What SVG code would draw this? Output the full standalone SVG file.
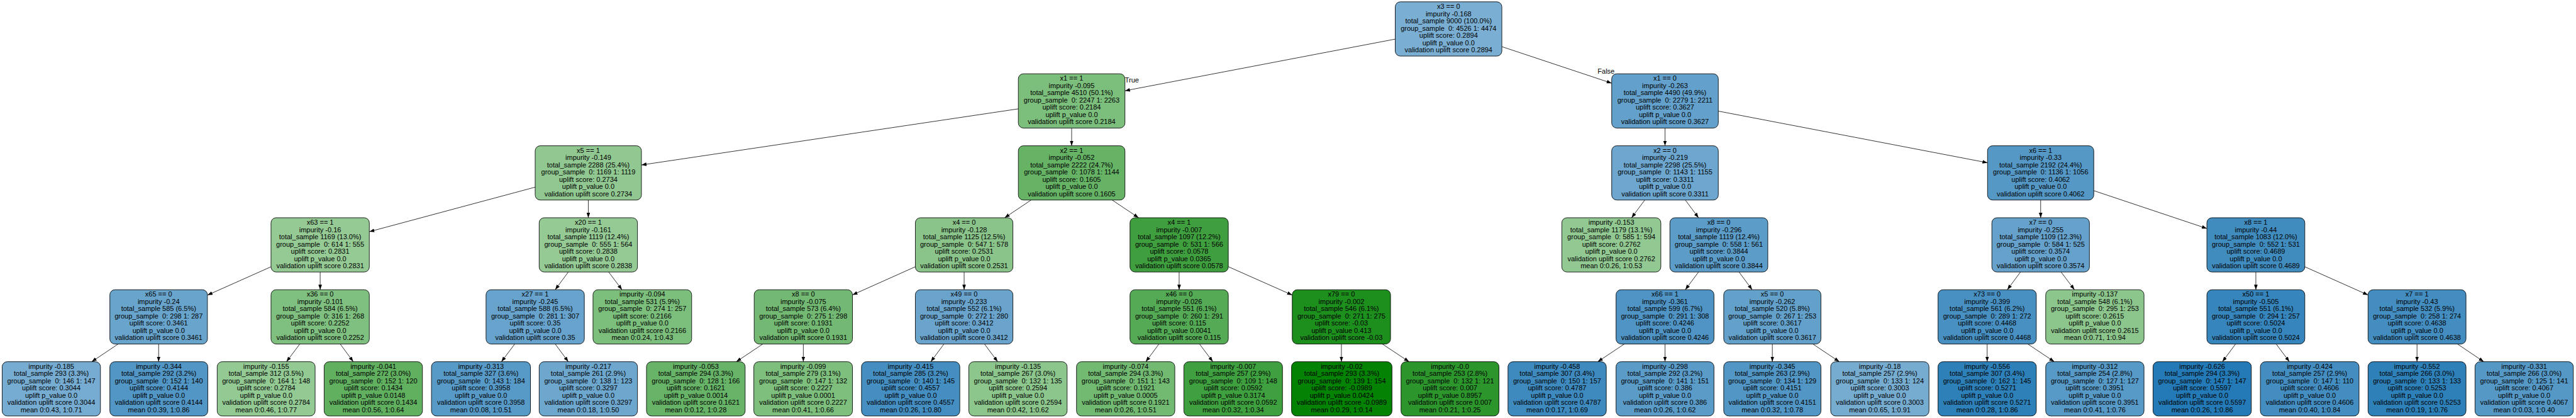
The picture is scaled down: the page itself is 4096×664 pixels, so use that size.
<svg xmlns="http://www.w3.org/2000/svg" width="4096" height="664" viewBox="0 0 4096 664">
<style>
.n rect{stroke:#000;stroke-width:1.5}
text{font-family:"Liberation Sans",Arial,sans-serif;font-size:19.15px;fill:#000;white-space:pre}
.n text{text-anchor:middle}
.e line{stroke:#000;stroke-width:1.4;marker-end:url(#ah)}
</style>
<defs>
<marker id="ah" markerUnits="userSpaceOnUse" markerWidth="14" markerHeight="10" refX="14" refY="5" orient="auto"><path d="M0,0 L14,5 L0,10 z" fill="#000"/></marker>
</defs>
<rect width="4096" height="664" fill="#fff"/>
<g transform="scale(0.5746)">
<g class="e" id="edges">
<line x1="3861" y1="108.1" x2="3113" y2="250.9"/>
<line x1="4156" y1="129" x2="4460" y2="230"/>
<line x1="2818" y1="300.9" x2="1775" y2="456.1"/>
<line x1="2965.5" y1="354" x2="2965.5" y2="403"/>
<line x1="4607.5" y1="354" x2="4607.5" y2="403"/>
<line x1="4755" y1="307.2" x2="5500" y2="449.9"/>
<line x1="1481" y1="517.4" x2="1022" y2="640.5"/>
<line x1="1628" y1="553" x2="1628" y2="602"/>
<line x1="2853.4" y1="553" x2="2780.1" y2="602"/>
<line x1="3077.6" y1="553" x2="3150.9" y2="602"/>
<line x1="4551.5" y1="553" x2="4515" y2="602"/>
<line x1="4663.7" y1="553" x2="4700.3" y2="602"/>
<line x1="5647" y1="553" x2="5647" y2="602"/>
<line x1="5794" y1="527.1" x2="6107" y2="631.7"/>
<line x1="750" y1="737.5" x2="574" y2="815.9"/>
<line x1="886" y1="752" x2="886" y2="801"/>
<line x1="1572.6" y1="752" x2="1536.4" y2="801"/>
<line x1="1684.3" y1="752" x2="1721.2" y2="801"/>
<line x1="2533" y1="737.4" x2="2359" y2="815.2"/>
<line x1="2668" y1="752" x2="2668" y2="801"/>
<line x1="3263" y1="752" x2="3263" y2="801"/>
<line x1="3399" y1="737.3" x2="3576" y2="815.7"/>
<line x1="4700.3" y1="752" x2="4663.7" y2="801"/>
<line x1="4812.3" y1="752" x2="4848.7" y2="801"/>
<line x1="5591.2" y1="752" x2="5554.8" y2="801"/>
<line x1="5703.5" y1="752" x2="5740.5" y2="801"/>
<line x1="6242.5" y1="752" x2="6242.5" y2="801"/>
<line x1="6378" y1="737.5" x2="6553" y2="815.5"/>
<line x1="327.1" y1="951" x2="253.9" y2="1000"/>
<line x1="439" y1="951" x2="439" y2="1000"/>
<line x1="829.7" y1="951" x2="792.8" y2="1000"/>
<line x1="941.4" y1="951" x2="977.6" y2="1000"/>
<line x1="1424.5" y1="951" x2="1387.5" y2="1000"/>
<line x1="1536.4" y1="951" x2="1572.6" y2="1000"/>
<line x1="2110.9" y1="951" x2="2037.6" y2="1000"/>
<line x1="2223" y1="951" x2="2223" y2="1000"/>
<line x1="2612.2" y1="951" x2="2575.8" y2="1000"/>
<line x1="2724.2" y1="951" x2="2760.8" y2="1000"/>
<line x1="3207.2" y1="951" x2="3170.8" y2="1000"/>
<line x1="3319.3" y1="951" x2="3356.2" y2="1000"/>
<line x1="3712" y1="951" x2="3712" y2="1000"/>
<line x1="3825.3" y1="951" x2="3899.2" y2="1000"/>
<line x1="4495" y1="951" x2="4421.5" y2="1000"/>
<line x1="4607.5" y1="951" x2="4607.5" y2="1000"/>
<line x1="4904.5" y1="951" x2="4904.5" y2="1000"/>
<line x1="5016.6" y1="951" x2="5089.9" y2="1000"/>
<line x1="5499" y1="951" x2="5499" y2="1000"/>
<line x1="5611.3" y1="951" x2="5684.7" y2="1000"/>
<line x1="6186.5" y1="951" x2="6150" y2="1000"/>
<line x1="6298.7" y1="951" x2="6335.3" y2="1000"/>
<line x1="6688.5" y1="951" x2="6688.5" y2="1000"/>
<line x1="6800.3" y1="951" x2="6873.2" y2="1000"/>
<text x="3113" y="228">True</text>
<text x="4421" y="204">False</text>
</g>
<g class="n" id="n0"><rect x="3861" y="5" width="295" height="150" rx="14" fill="#7aafd3"/><text x="4008.5" y="24.5"><tspan x="4008.5">x3 == 0</tspan><tspan x="4008.5" dy="20">impurity -0.168</tspan><tspan x="4008.5" dy="20">total_sample 9000 (100.0%)</tspan><tspan x="4008.5" dy="20">group_sample  0: 4526 1: 4474</tspan><tspan x="4008.5" dy="20">uplift score: 0.2894</tspan><tspan x="4008.5" dy="20">uplift p_value 0.0</tspan><tspan x="4008.5" dy="20">validation uplift score 0.2894</tspan></text></g>
<g class="n" id="n1"><rect x="2818" y="204" width="295" height="150" rx="14" fill="#7cbe7c"/><text x="2965.5" y="223.5"><tspan x="2965.5">x1 == 1</tspan><tspan x="2965.5" dy="20">impurity -0.095</tspan><tspan x="2965.5" dy="20">total_sample 4510 (50.1%)</tspan><tspan x="2965.5" dy="20">group_sample  0: 2247 1: 2263</tspan><tspan x="2965.5" dy="20">uplift score: 0.2184</tspan><tspan x="2965.5" dy="20">uplift p_value 0.0</tspan><tspan x="2965.5" dy="20">validation uplift score 0.2184</tspan></text></g>
<g class="n" id="n2"><rect x="4460" y="204" width="295" height="150" rx="14" fill="#63a0cb"/><text x="4607.5" y="223.5"><tspan x="4607.5">x1 == 0</tspan><tspan x="4607.5" dy="20">impurity -0.263</tspan><tspan x="4607.5" dy="20">total_sample 4490 (49.9%)</tspan><tspan x="4607.5" dy="20">group_sample  0: 2279 1: 2211</tspan><tspan x="4607.5" dy="20">uplift score: 0.3627</tspan><tspan x="4607.5" dy="20">uplift p_value 0.0</tspan><tspan x="4607.5" dy="20">validation uplift score 0.3627</tspan></text></g>
<g class="n" id="n3"><rect x="1481" y="403" width="294" height="150" rx="14" fill="#91c891"/><text x="1628" y="422.5"><tspan x="1628">x5 == 1</tspan><tspan x="1628" dy="20">impurity -0.149</tspan><tspan x="1628" dy="20">total_sample 2288 (25.4%)</tspan><tspan x="1628" dy="20">group_sample  0: 1169 1: 1119</tspan><tspan x="1628" dy="20">uplift score: 0.2734</tspan><tspan x="1628" dy="20">uplift p_value 0.0</tspan><tspan x="1628" dy="20">validation uplift score 0.2734</tspan></text></g>
<g class="n" id="n4"><rect x="2818" y="403" width="295" height="150" rx="14" fill="#66b366"/><text x="2965.5" y="422.5"><tspan x="2965.5">x2 == 1</tspan><tspan x="2965.5" dy="20">impurity -0.052</tspan><tspan x="2965.5" dy="20">total_sample 2222 (24.7%)</tspan><tspan x="2965.5" dy="20">group_sample  0: 1078 1: 1144</tspan><tspan x="2965.5" dy="20">uplift score: 0.1605</tspan><tspan x="2965.5" dy="20">uplift p_value 0.0</tspan><tspan x="2965.5" dy="20">validation uplift score 0.1605</tspan></text></g>
<g class="n" id="n5"><rect x="4460" y="403" width="295" height="150" rx="14" fill="#6da6ce"/><text x="4607.5" y="422.5"><tspan x="4607.5">x2 == 0</tspan><tspan x="4607.5" dy="20">impurity -0.219</tspan><tspan x="4607.5" dy="20">total_sample 2298 (25.5%)</tspan><tspan x="4607.5" dy="20">group_sample  0: 1143 1: 1155</tspan><tspan x="4607.5" dy="20">uplift score: 0.3311</tspan><tspan x="4607.5" dy="20">uplift p_value 0.0</tspan><tspan x="4607.5" dy="20">validation uplift score 0.3311</tspan></text></g>
<g class="n" id="n6"><rect x="5500" y="403" width="294" height="150" rx="14" fill="#5598c6"/><text x="5647" y="422.5"><tspan x="5647">x6 == 1</tspan><tspan x="5647" dy="20">impurity -0.33</tspan><tspan x="5647" dy="20">total_sample 2192 (24.4%)</tspan><tspan x="5647" dy="20">group_sample  0: 1136 1: 1056</tspan><tspan x="5647" dy="20">uplift score: 0.4062</tspan><tspan x="5647" dy="20">uplift p_value 0.0</tspan><tspan x="5647" dy="20">validation uplift score 0.4062</tspan></text></g>
<g class="n" id="n7"><rect x="750" y="602" width="272" height="150" rx="14" fill="#95ca95"/><text x="886" y="621.5"><tspan x="886">x63 == 1</tspan><tspan x="886" dy="20">impurity -0.16</tspan><tspan x="886" dy="20">total_sample 1169 (13.0%)</tspan><tspan x="886" dy="20">group_sample  0: 614 1: 555</tspan><tspan x="886" dy="20">uplift score: 0.2831</tspan><tspan x="886" dy="20">uplift p_value 0.0</tspan><tspan x="886" dy="20">validation uplift score 0.2831</tspan></text></g>
<g class="n" id="n8"><rect x="1492" y="602" width="272" height="150" rx="14" fill="#95ca95"/><text x="1628" y="621.5"><tspan x="1628">x20 == 1</tspan><tspan x="1628" dy="20">impurity -0.161</tspan><tspan x="1628" dy="20">total_sample 1119 (12.4%)</tspan><tspan x="1628" dy="20">group_sample  0: 555 1: 564</tspan><tspan x="1628" dy="20">uplift score: 0.2838</tspan><tspan x="1628" dy="20">uplift p_value 0.0</tspan><tspan x="1628" dy="20">validation uplift score 0.2838</tspan></text></g>
<g class="n" id="n9"><rect x="2533" y="602" width="270" height="150" rx="14" fill="#8ac48a"/><text x="2668" y="621.5"><tspan x="2668">x4 == 0</tspan><tspan x="2668" dy="20">impurity -0.128</tspan><tspan x="2668" dy="20">total_sample 1125 (12.5%)</tspan><tspan x="2668" dy="20">group_sample  0: 547 1: 578</tspan><tspan x="2668" dy="20">uplift score: 0.2531</tspan><tspan x="2668" dy="20">uplift p_value 0.0</tspan><tspan x="2668" dy="20">validation uplift score 0.2531</tspan></text></g>
<g class="n" id="n10"><rect x="3127" y="602" width="272" height="150" rx="14" fill="#3f9f3f"/><text x="3263" y="621.5"><tspan x="3263">x4 == 1</tspan><tspan x="3263" dy="20">impurity -0.007</tspan><tspan x="3263" dy="20">total_sample 1097 (12.2%)</tspan><tspan x="3263" dy="20">group_sample  0: 531 1: 566</tspan><tspan x="3263" dy="20">uplift score: 0.0578</tspan><tspan x="3263" dy="20">uplift p_value 0.0365</tspan><tspan x="3263" dy="20">validation uplift score 0.0578</tspan></text></g>
<g class="n" id="n11"><rect x="4322" y="602" width="274" height="150" rx="14" fill="#92c992"/><text x="4459" y="621.5"><tspan x="4459">impurity -0.153</tspan><tspan x="4459" dy="20">total_sample 1179 (13.1%)</tspan><tspan x="4459" dy="20">group_sample  0: 585 1: 594</tspan><tspan x="4459" dy="20">uplift score: 0.2762</tspan><tspan x="4459" dy="20">uplift p_value 0.0</tspan><tspan x="4459" dy="20">validation uplift score 0.2762</tspan><tspan x="4459" dy="20">mean 0:0.26, 1:0.53</tspan></text></g>
<g class="n" id="n12"><rect x="4621" y="602" width="271" height="150" rx="14" fill="#5c9cc8"/><text x="4756.5" y="621.5"><tspan x="4756.5">x8 == 0</tspan><tspan x="4756.5" dy="20">impurity -0.296</tspan><tspan x="4756.5" dy="20">total_sample 1119 (12.4%)</tspan><tspan x="4756.5" dy="20">group_sample  0: 558 1: 561</tspan><tspan x="4756.5" dy="20">uplift score: 0.3844</tspan><tspan x="4756.5" dy="20">uplift p_value 0.0</tspan><tspan x="4756.5" dy="20">validation uplift score 0.3844</tspan></text></g>
<g class="n" id="n13"><rect x="5512" y="602" width="270" height="150" rx="14" fill="#65a1cb"/><text x="5647" y="621.5"><tspan x="5647">x7 == 0</tspan><tspan x="5647" dy="20">impurity -0.255</tspan><tspan x="5647" dy="20">total_sample 1109 (12.3%)</tspan><tspan x="5647" dy="20">group_sample  0: 584 1: 525</tspan><tspan x="5647" dy="20">uplift score: 0.3574</tspan><tspan x="5647" dy="20">uplift p_value 0.0</tspan><tspan x="5647" dy="20">validation uplift score 0.3574</tspan></text></g>
<g class="n" id="n14"><rect x="6107" y="602" width="271" height="150" rx="14" fill="#418cbf"/><text x="6242.5" y="621.5"><tspan x="6242.5">x8 == 1</tspan><tspan x="6242.5" dy="20">impurity -0.44</tspan><tspan x="6242.5" dy="20">total_sample 1083 (12.0%)</tspan><tspan x="6242.5" dy="20">group_sample  0: 552 1: 531</tspan><tspan x="6242.5" dy="20">uplift score: 0.4689</tspan><tspan x="6242.5" dy="20">uplift p_value 0.0</tspan><tspan x="6242.5" dy="20">validation uplift score 0.4689</tspan></text></g>
<g class="n" id="n15"><rect x="304" y="801" width="270" height="150" rx="14" fill="#68a4cc"/><text x="439" y="820.5"><tspan x="439">x65 == 0</tspan><tspan x="439" dy="20">impurity -0.24</tspan><tspan x="439" dy="20">total_sample 585 (6.5%)</tspan><tspan x="439" dy="20">group_sample  0: 298 1: 287</tspan><tspan x="439" dy="20">uplift score: 0.3461</tspan><tspan x="439" dy="20">uplift p_value 0.0</tspan><tspan x="439" dy="20">validation uplift score 0.3461</tspan></text></g>
<g class="n" id="n16"><rect x="750" y="801" width="272" height="150" rx="14" fill="#7fbf7f"/><text x="886" y="820.5"><tspan x="886">x36 == 0</tspan><tspan x="886" dy="20">impurity -0.101</tspan><tspan x="886" dy="20">total_sample 584 (6.5%)</tspan><tspan x="886" dy="20">group_sample  0: 316 1: 268</tspan><tspan x="886" dy="20">uplift score: 0.2252</tspan><tspan x="886" dy="20">uplift p_value 0.0</tspan><tspan x="886" dy="20">validation uplift score 0.2252</tspan></text></g>
<g class="n" id="n17"><rect x="1345" y="801" width="272" height="150" rx="14" fill="#67a3cc"/><text x="1481" y="820.5"><tspan x="1481">x27 == 1</tspan><tspan x="1481" dy="20">impurity -0.245</tspan><tspan x="1481" dy="20">total_sample 588 (6.5%)</tspan><tspan x="1481" dy="20">group_sample  0: 281 1: 307</tspan><tspan x="1481" dy="20">uplift score: 0.35</tspan><tspan x="1481" dy="20">uplift p_value 0.0</tspan><tspan x="1481" dy="20">validation uplift score 0.35</tspan></text></g>
<g class="n" id="n18"><rect x="1641" y="801" width="273" height="150" rx="14" fill="#7cbe7c"/><text x="1777.5" y="820.5"><tspan x="1777.5">impurity -0.094</tspan><tspan x="1777.5" dy="20">total_sample 531 (5.9%)</tspan><tspan x="1777.5" dy="20">group_sample  0: 274 1: 257</tspan><tspan x="1777.5" dy="20">uplift score: 0.2166</tspan><tspan x="1777.5" dy="20">uplift p_value 0.0</tspan><tspan x="1777.5" dy="20">validation uplift score 0.2166</tspan><tspan x="1777.5" dy="20">mean 0:0.24, 1:0.43</tspan></text></g>
<g class="n" id="n19"><rect x="2087" y="801" width="272" height="150" rx="14" fill="#73b973"/><text x="2223" y="820.5"><tspan x="2223">x8 == 0</tspan><tspan x="2223" dy="20">impurity -0.075</tspan><tspan x="2223" dy="20">total_sample 573 (6.4%)</tspan><tspan x="2223" dy="20">group_sample  0: 275 1: 298</tspan><tspan x="2223" dy="20">uplift score: 0.1931</tspan><tspan x="2223" dy="20">uplift p_value 0.0</tspan><tspan x="2223" dy="20">validation uplift score 0.1931</tspan></text></g>
<g class="n" id="n20"><rect x="2533" y="801" width="270" height="150" rx="14" fill="#6aa4cd"/><text x="2668" y="820.5"><tspan x="2668">x49 == 0</tspan><tspan x="2668" dy="20">impurity -0.233</tspan><tspan x="2668" dy="20">total_sample 552 (6.1%)</tspan><tspan x="2668" dy="20">group_sample  0: 272 1: 280</tspan><tspan x="2668" dy="20">uplift score: 0.3412</tspan><tspan x="2668" dy="20">uplift p_value 0.0</tspan><tspan x="2668" dy="20">validation uplift score 0.3412</tspan></text></g>
<g class="n" id="n21"><rect x="3127" y="801" width="272" height="150" rx="14" fill="#55aa55"/><text x="3263" y="820.5"><tspan x="3263">x46 == 0</tspan><tspan x="3263" dy="20">impurity -0.026</tspan><tspan x="3263" dy="20">total_sample 551 (6.1%)</tspan><tspan x="3263" dy="20">group_sample  0: 260 1: 291</tspan><tspan x="3263" dy="20">uplift score: 0.115</tspan><tspan x="3263" dy="20">uplift p_value 0.0041</tspan><tspan x="3263" dy="20">validation uplift score 0.115</tspan></text></g>
<g class="n" id="n22"><rect x="3576" y="801" width="272" height="150" rx="14" fill="#1d8f1d"/><text x="3712" y="820.5"><tspan x="3712">x79 == 0</tspan><tspan x="3712" dy="20">impurity -0.002</tspan><tspan x="3712" dy="20">total_sample 546 (6.1%)</tspan><tspan x="3712" dy="20">group_sample  0: 271 1: 275</tspan><tspan x="3712" dy="20">uplift score: -0.03</tspan><tspan x="3712" dy="20">uplift p_value 0.413</tspan><tspan x="3712" dy="20">validation uplift score -0.03</tspan></text></g>
<g class="n" id="n23"><rect x="4472" y="801" width="271" height="150" rx="14" fill="#4f94c4"/><text x="4607.5" y="820.5"><tspan x="4607.5">x66 == 1</tspan><tspan x="4607.5" dy="20">impurity -0.361</tspan><tspan x="4607.5" dy="20">total_sample 599 (6.7%)</tspan><tspan x="4607.5" dy="20">group_sample  0: 291 1: 308</tspan><tspan x="4607.5" dy="20">uplift score: 0.4246</tspan><tspan x="4607.5" dy="20">uplift p_value 0.0</tspan><tspan x="4607.5" dy="20">validation uplift score 0.4246</tspan></text></g>
<g class="n" id="n24"><rect x="4770" y="801" width="269" height="150" rx="14" fill="#63a1cb"/><text x="4904.5" y="820.5"><tspan x="4904.5">x5 == 0</tspan><tspan x="4904.5" dy="20">impurity -0.262</tspan><tspan x="4904.5" dy="20">total_sample 520 (5.8%)</tspan><tspan x="4904.5" dy="20">group_sample  0: 267 1: 253</tspan><tspan x="4904.5" dy="20">uplift score: 0.3617</tspan><tspan x="4904.5" dy="20">uplift p_value 0.0</tspan><tspan x="4904.5" dy="20">validation uplift score 0.3617</tspan></text></g>
<g class="n" id="n25"><rect x="5363" y="801" width="272" height="150" rx="14" fill="#4890c2"/><text x="5499" y="820.5"><tspan x="5499">x73 == 0</tspan><tspan x="5499" dy="20">impurity -0.399</tspan><tspan x="5499" dy="20">total_sample 561 (6.2%)</tspan><tspan x="5499" dy="20">group_sample  0: 289 1: 272</tspan><tspan x="5499" dy="20">uplift score: 0.4468</tspan><tspan x="5499" dy="20">uplift p_value 0.0</tspan><tspan x="5499" dy="20">validation uplift score 0.4468</tspan></text></g>
<g class="n" id="n26"><rect x="5661" y="801" width="272" height="150" rx="14" fill="#8dc68d"/><text x="5797" y="820.5"><tspan x="5797">impurity -0.137</tspan><tspan x="5797" dy="20">total_sample 548 (6.1%)</tspan><tspan x="5797" dy="20">group_sample  0: 295 1: 253</tspan><tspan x="5797" dy="20">uplift score: 0.2615</tspan><tspan x="5797" dy="20">uplift p_value 0.0</tspan><tspan x="5797" dy="20">validation uplift score 0.2615</tspan><tspan x="5797" dy="20">mean 0:0.71, 1:0.94</tspan></text></g>
<g class="n" id="n27"><rect x="6107" y="801" width="271" height="150" rx="14" fill="#3685bc"/><text x="6242.5" y="820.5"><tspan x="6242.5">x50 == 1</tspan><tspan x="6242.5" dy="20">impurity -0.505</tspan><tspan x="6242.5" dy="20">total_sample 551 (6.1%)</tspan><tspan x="6242.5" dy="20">group_sample  0: 294 1: 257</tspan><tspan x="6242.5" dy="20">uplift score: 0.5024</tspan><tspan x="6242.5" dy="20">uplift p_value 0.0</tspan><tspan x="6242.5" dy="20">validation uplift score 0.5024</tspan></text></g>
<g class="n" id="n28"><rect x="6553" y="801" width="271" height="150" rx="14" fill="#438dc0"/><text x="6688.5" y="820.5"><tspan x="6688.5">x7 == 1</tspan><tspan x="6688.5" dy="20">impurity -0.43</tspan><tspan x="6688.5" dy="20">total_sample 532 (5.9%)</tspan><tspan x="6688.5" dy="20">group_sample  0: 258 1: 274</tspan><tspan x="6688.5" dy="20">uplift score: 0.4638</tspan><tspan x="6688.5" dy="20">uplift p_value 0.0</tspan><tspan x="6688.5" dy="20">validation uplift score 0.4638</tspan></text></g>
<g class="n" id="l1"><rect x="6" y="1000" width="272" height="150" rx="14" fill="#76acd1"/><text x="142" y="1019.5"><tspan x="142">impurity -0.185</tspan><tspan x="142" dy="20">total_sample 293 (3.3%)</tspan><tspan x="142" dy="20">group_sample  0: 146 1: 147</tspan><tspan x="142" dy="20">uplift score: 0.3044</tspan><tspan x="142" dy="20">uplift p_value 0.0</tspan><tspan x="142" dy="20">validation uplift score 0.3044</tspan><tspan x="142" dy="20">mean 0:0.43, 1:0.71</tspan></text></g>
<g class="n" id="l2"><rect x="304" y="1000" width="271" height="150" rx="14" fill="#5296c5"/><text x="439.5" y="1019.5"><tspan x="439.5">impurity -0.344</tspan><tspan x="439.5" dy="20">total_sample 292 (3.2%)</tspan><tspan x="439.5" dy="20">group_sample  0: 152 1: 140</tspan><tspan x="439.5" dy="20">uplift score: 0.4144</tspan><tspan x="439.5" dy="20">uplift p_value 0.0</tspan><tspan x="439.5" dy="20">validation uplift score 0.4144</tspan><tspan x="439.5" dy="20">mean 0:0.39, 1:0.86</tspan></text></g>
<g class="n" id="l3"><rect x="601" y="1000" width="271" height="150" rx="14" fill="#93c993"/><text x="736.5" y="1019.5"><tspan x="736.5">impurity -0.155</tspan><tspan x="736.5" dy="20">total_sample 312 (3.5%)</tspan><tspan x="736.5" dy="20">group_sample  0: 164 1: 148</tspan><tspan x="736.5" dy="20">uplift score: 0.2784</tspan><tspan x="736.5" dy="20">uplift p_value 0.0</tspan><tspan x="736.5" dy="20">validation uplift score 0.2784</tspan><tspan x="736.5" dy="20">mean 0:0.46, 1:0.77</tspan></text></g>
<g class="n" id="l4"><rect x="897" y="1000" width="272" height="150" rx="14" fill="#60b060"/><text x="1033" y="1019.5"><tspan x="1033">impurity -0.041</tspan><tspan x="1033" dy="20">total_sample 272 (3.0%)</tspan><tspan x="1033" dy="20">group_sample  0: 152 1: 120</tspan><tspan x="1033" dy="20">uplift score: 0.1434</tspan><tspan x="1033" dy="20">uplift p_value 0.0148</tspan><tspan x="1033" dy="20">validation uplift score 0.1434</tspan><tspan x="1033" dy="20">mean 0:0.56, 1:0.64</tspan></text></g>
<g class="n" id="l5"><rect x="1194" y="1000" width="274" height="150" rx="14" fill="#589ac7"/><text x="1331" y="1019.5"><tspan x="1331">impurity -0.313</tspan><tspan x="1331" dy="20">total_sample 327 (3.6%)</tspan><tspan x="1331" dy="20">group_sample  0: 143 1: 184</tspan><tspan x="1331" dy="20">uplift score: 0.3958</tspan><tspan x="1331" dy="20">uplift p_value 0.0</tspan><tspan x="1331" dy="20">validation uplift score 0.3958</tspan><tspan x="1331" dy="20">mean 0:0.08, 1:0.51</tspan></text></g>
<g class="n" id="l6"><rect x="1492" y="1000" width="272" height="150" rx="14" fill="#6ea7ce"/><text x="1628" y="1019.5"><tspan x="1628">impurity -0.217</tspan><tspan x="1628" dy="20">total_sample 261 (2.9%)</tspan><tspan x="1628" dy="20">group_sample  0: 138 1: 123</tspan><tspan x="1628" dy="20">uplift score: 0.3297</tspan><tspan x="1628" dy="20">uplift p_value 0.0</tspan><tspan x="1628" dy="20">validation uplift score 0.3297</tspan><tspan x="1628" dy="20">mean 0:0.18, 1:0.50</tspan></text></g>
<g class="n" id="l7"><rect x="1789" y="1000" width="273" height="150" rx="14" fill="#67b367"/><text x="1925.5" y="1019.5"><tspan x="1925.5">impurity -0.053</tspan><tspan x="1925.5" dy="20">total_sample 294 (3.3%)</tspan><tspan x="1925.5" dy="20">group_sample  0: 128 1: 166</tspan><tspan x="1925.5" dy="20">uplift score: 0.1621</tspan><tspan x="1925.5" dy="20">uplift p_value 0.0014</tspan><tspan x="1925.5" dy="20">validation uplift score 0.1621</tspan><tspan x="1925.5" dy="20">mean 0:0.12, 1:0.28</tspan></text></g>
<g class="n" id="l8"><rect x="2086" y="1000" width="273" height="150" rx="14" fill="#7ebf7e"/><text x="2222.5" y="1019.5"><tspan x="2222.5">impurity -0.099</tspan><tspan x="2222.5" dy="20">total_sample 279 (3.1%)</tspan><tspan x="2222.5" dy="20">group_sample  0: 147 1: 132</tspan><tspan x="2222.5" dy="20">uplift score: 0.2227</tspan><tspan x="2222.5" dy="20">uplift p_value 0.0001</tspan><tspan x="2222.5" dy="20">validation uplift score 0.2227</tspan><tspan x="2222.5" dy="20">mean 0:0.41, 1:0.66</tspan></text></g>
<g class="n" id="l9"><rect x="2384" y="1000" width="272" height="150" rx="14" fill="#458ec1"/><text x="2520" y="1019.5"><tspan x="2520">impurity -0.415</tspan><tspan x="2520" dy="20">total_sample 285 (3.2%)</tspan><tspan x="2520" dy="20">group_sample  0: 140 1: 145</tspan><tspan x="2520" dy="20">uplift score: 0.4557</tspan><tspan x="2520" dy="20">uplift p_value 0.0</tspan><tspan x="2520" dy="20">validation uplift score 0.4557</tspan><tspan x="2520" dy="20">mean 0:0.26, 1:0.80</tspan></text></g>
<g class="n" id="l10"><rect x="2681" y="1000" width="272" height="150" rx="14" fill="#8cc68c"/><text x="2817" y="1019.5"><tspan x="2817">impurity -0.135</tspan><tspan x="2817" dy="20">total_sample 267 (3.0%)</tspan><tspan x="2817" dy="20">group_sample  0: 132 1: 135</tspan><tspan x="2817" dy="20">uplift score: 0.2594</tspan><tspan x="2817" dy="20">uplift p_value 0.0</tspan><tspan x="2817" dy="20">validation uplift score 0.2594</tspan><tspan x="2817" dy="20">mean 0:0.42, 1:0.62</tspan></text></g>
<g class="n" id="l11"><rect x="2979" y="1000" width="272" height="150" rx="14" fill="#72b972"/><text x="3115" y="1019.5"><tspan x="3115">impurity -0.074</tspan><tspan x="3115" dy="20">total_sample 294 (3.3%)</tspan><tspan x="3115" dy="20">group_sample  0: 151 1: 143</tspan><tspan x="3115" dy="20">uplift score: 0.1921</tspan><tspan x="3115" dy="20">uplift p_value 0.0005</tspan><tspan x="3115" dy="20">validation uplift score 0.1921</tspan><tspan x="3115" dy="20">mean 0:0.26, 1:0.51</tspan></text></g>
<g class="n" id="l12"><rect x="3276" y="1000" width="273" height="150" rx="14" fill="#3fa03f"/><text x="3412.5" y="1019.5"><tspan x="3412.5">impurity -0.007</tspan><tspan x="3412.5" dy="20">total_sample 257 (2.9%)</tspan><tspan x="3412.5" dy="20">group_sample  0: 109 1: 148</tspan><tspan x="3412.5" dy="20">uplift score: 0.0592</tspan><tspan x="3412.5" dy="20">uplift p_value 0.3174</tspan><tspan x="3412.5" dy="20">validation uplift score 0.0592</tspan><tspan x="3412.5" dy="20">mean 0:0.32, 1:0.34</tspan></text></g>
<g class="n" id="l13"><rect x="3574" y="1000" width="278" height="150" rx="14" fill="#038203"/><text x="3713" y="1019.5"><tspan x="3713">impurity -0.02</tspan><tspan x="3713" dy="20">total_sample 293 (3.3%)</tspan><tspan x="3713" dy="20">group_sample  0: 139 1: 154</tspan><tspan x="3713" dy="20">uplift score: -0.0989</tspan><tspan x="3713" dy="20">uplift p_value 0.0424</tspan><tspan x="3713" dy="20">validation uplift score -0.0989</tspan><tspan x="3713" dy="20">mean 0:0.29, 1:0.14</tspan></text></g>
<g class="n" id="l14"><rect x="3877" y="1000" width="271" height="150" rx="14" fill="#2c962c"/><text x="4012.5" y="1019.5"><tspan x="4012.5">impurity -0.0</tspan><tspan x="4012.5" dy="20">total_sample 253 (2.8%)</tspan><tspan x="4012.5" dy="20">group_sample  0: 132 1: 121</tspan><tspan x="4012.5" dy="20">uplift score: 0.007</tspan><tspan x="4012.5" dy="20">uplift p_value 0.8957</tspan><tspan x="4012.5" dy="20">validation uplift score 0.007</tspan><tspan x="4012.5" dy="20">mean 0:0.21, 1:0.25</tspan></text></g>
<g class="n" id="l15"><rect x="4173" y="1000" width="272" height="150" rx="14" fill="#3e8abe"/><text x="4309" y="1019.5"><tspan x="4309">impurity -0.458</tspan><tspan x="4309" dy="20">total_sample 307 (3.4%)</tspan><tspan x="4309" dy="20">group_sample  0: 150 1: 157</tspan><tspan x="4309" dy="20">uplift score: 0.4787</tspan><tspan x="4309" dy="20">uplift p_value 0.0</tspan><tspan x="4309" dy="20">validation uplift score 0.4787</tspan><tspan x="4309" dy="20">mean 0:0.17, 1:0.69</tspan></text></g>
<g class="n" id="l16"><rect x="4472" y="1000" width="271" height="150" rx="14" fill="#5b9bc8"/><text x="4607.5" y="1019.5"><tspan x="4607.5">impurity -0.298</tspan><tspan x="4607.5" dy="20">total_sample 292 (3.2%)</tspan><tspan x="4607.5" dy="20">group_sample  0: 141 1: 151</tspan><tspan x="4607.5" dy="20">uplift score: 0.386</tspan><tspan x="4607.5" dy="20">uplift p_value 0.0</tspan><tspan x="4607.5" dy="20">validation uplift score 0.386</tspan><tspan x="4607.5" dy="20">mean 0:0.26, 1:0.62</tspan></text></g>
<g class="n" id="l17"><rect x="4770" y="1000" width="269" height="150" rx="14" fill="#5296c5"/><text x="4904.5" y="1019.5"><tspan x="4904.5">impurity -0.345</tspan><tspan x="4904.5" dy="20">total_sample 263 (2.9%)</tspan><tspan x="4904.5" dy="20">group_sample  0: 134 1: 129</tspan><tspan x="4904.5" dy="20">uplift score: 0.4151</tspan><tspan x="4904.5" dy="20">uplift p_value 0.0</tspan><tspan x="4904.5" dy="20">validation uplift score 0.4151</tspan><tspan x="4904.5" dy="20">mean 0:0.32, 1:0.78</tspan></text></g>
<g class="n" id="l18"><rect x="5066" y="1000" width="272" height="150" rx="14" fill="#77acd1"/><text x="5202" y="1019.5"><tspan x="5202">impurity -0.18</tspan><tspan x="5202" dy="20">total_sample 257 (2.9%)</tspan><tspan x="5202" dy="20">group_sample  0: 133 1: 124</tspan><tspan x="5202" dy="20">uplift score: 0.3003</tspan><tspan x="5202" dy="20">uplift p_value 0.0</tspan><tspan x="5202" dy="20">validation uplift score 0.3003</tspan><tspan x="5202" dy="20">mean 0:0.65, 1:0.91</tspan></text></g>
<g class="n" id="l19"><rect x="5363" y="1000" width="272" height="150" rx="14" fill="#2e80b9"/><text x="5499" y="1019.5"><tspan x="5499">impurity -0.556</tspan><tspan x="5499" dy="20">total_sample 307 (3.4%)</tspan><tspan x="5499" dy="20">group_sample  0: 162 1: 145</tspan><tspan x="5499" dy="20">uplift score: 0.5271</tspan><tspan x="5499" dy="20">uplift p_value 0.0</tspan><tspan x="5499" dy="20">validation uplift score 0.5271</tspan><tspan x="5499" dy="20">mean 0:0.28, 1:0.86</tspan></text></g>
<g class="n" id="l20"><rect x="5661" y="1000" width="272" height="150" rx="14" fill="#589ac7"/><text x="5797" y="1019.5"><tspan x="5797">impurity -0.312</tspan><tspan x="5797" dy="20">total_sample 254 (2.8%)</tspan><tspan x="5797" dy="20">group_sample  0: 127 1: 127</tspan><tspan x="5797" dy="20">uplift score: 0.3951</tspan><tspan x="5797" dy="20">uplift p_value 0.0</tspan><tspan x="5797" dy="20">validation uplift score 0.3951</tspan><tspan x="5797" dy="20">mean 0:0.41, 1:0.76</tspan></text></g>
<g class="n" id="l21"><rect x="5958" y="1000" width="272" height="150" rx="14" fill="#247ab6"/><text x="6094" y="1019.5"><tspan x="6094">impurity -0.626</tspan><tspan x="6094" dy="20">total_sample 294 (3.3%)</tspan><tspan x="6094" dy="20">group_sample  0: 147 1: 147</tspan><tspan x="6094" dy="20">uplift score: 0.5597</tspan><tspan x="6094" dy="20">uplift p_value 0.0</tspan><tspan x="6094" dy="20">validation uplift score 0.5597</tspan><tspan x="6094" dy="20">mean 0:0.26, 1:0.86</tspan></text></g>
<g class="n" id="l22"><rect x="6255" y="1000" width="273" height="150" rx="14" fill="#448dc0"/><text x="6391.5" y="1019.5"><tspan x="6391.5">impurity -0.424</tspan><tspan x="6391.5" dy="20">total_sample 257 (2.9%)</tspan><tspan x="6391.5" dy="20">group_sample  0: 147 1: 110</tspan><tspan x="6391.5" dy="20">uplift score: 0.4606</tspan><tspan x="6391.5" dy="20">uplift p_value 0.0</tspan><tspan x="6391.5" dy="20">validation uplift score 0.4606</tspan><tspan x="6391.5" dy="20">mean 0:0.40, 1:0.84</tspan></text></g>
<g class="n" id="l23"><rect x="6553" y="1000" width="271" height="150" rx="14" fill="#2e80b9"/><text x="6688.5" y="1019.5"><tspan x="6688.5">impurity -0.552</tspan><tspan x="6688.5" dy="20">total_sample 266 (3.0%)</tspan><tspan x="6688.5" dy="20">group_sample  0: 133 1: 133</tspan><tspan x="6688.5" dy="20">uplift score: 0.5253</tspan><tspan x="6688.5" dy="20">uplift p_value 0.0</tspan><tspan x="6688.5" dy="20">validation uplift score 0.5253</tspan><tspan x="6688.5" dy="20">mean 0:0.19, 1:0.76</tspan></text></g>
<g class="n" id="l24"><rect x="6849" y="1000" width="272" height="150" rx="14" fill="#5598c6"/><text x="6985" y="1019.5"><tspan x="6985">impurity -0.331</tspan><tspan x="6985" dy="20">total_sample 266 (3.0%)</tspan><tspan x="6985" dy="20">group_sample  0: 125 1: 141</tspan><tspan x="6985" dy="20">uplift score: 0.4067</tspan><tspan x="6985" dy="20">uplift p_value 0.0</tspan><tspan x="6985" dy="20">validation uplift score 0.4067</tspan><tspan x="6985" dy="20">mean 0:0.03, 1:0.40</tspan></text></g>
</g>
</svg>
